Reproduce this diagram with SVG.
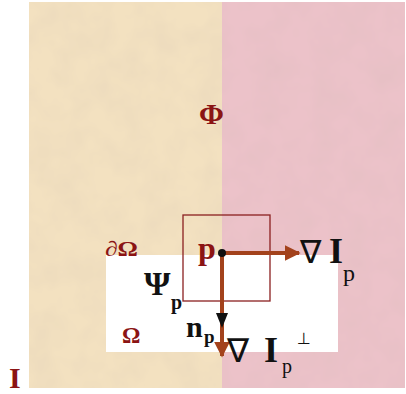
<svg xmlns="http://www.w3.org/2000/svg" width="406" height="394" viewBox="0 0 406 394">
<defs>
<style>
.t{font-family:"Liberation Serif","DejaVu Serif",serif;font-weight:bold}
.n{font-family:"Liberation Serif","DejaVu Serif",serif;font-weight:normal}
.nab{font-family:"DejaVu Sans",sans-serif;font-weight:normal}
.red{fill:#8b1414}
.blk{fill:#111}
.arr{stroke:#a3421c;stroke-width:4;fill:none}
</style>
<filter id="tex" x="0" y="0" width="100%" height="100%">
<feTurbulence type="fractalNoise" baseFrequency="0.035" numOctaves="3" seed="4"/>
<feColorMatrix type="matrix" values="0 0 0 0 0.55  0 0 0 0 0.45  0 0 0 0 0.4  0 0 0 0.22 -0.07"/>
</filter>
<marker id="ah" viewBox="0 0 10 10" refX="9" refY="5" markerWidth="4" markerHeight="4" orient="auto" markerUnits="strokeWidth">
<path d="M0,0L10,5L0,10z" fill="#a3421c"/>
</marker>
</defs>
<rect x="0" y="0" width="406" height="394" fill="#ffffff"/>
<rect x="29" y="2" width="193" height="386" fill="#f3e1c0"/>
<rect x="222" y="2" width="183" height="386" fill="#ecc2c9"/>
<rect x="29" y="2" width="376" height="386" filter="url(#tex)"/>
<rect x="106" y="255" width="232" height="97" fill="#ffffff"/>
<g id="square"><rect x="183" y="215" width="87" height="86" fill="none" stroke="#8b2020" stroke-width="1.3"/></g>
<g id="connectors">
<line class="arr" x1="222" y1="253" x2="299" y2="253" marker-end="url(#ah)"/>
<line class="arr" x1="222" y1="253" x2="222" y2="356" marker-end="url(#ah)"/>
<path d="M216,313L228,313L222,328z" fill="#111"/>
</g>
<g id="p"><circle cx="222" cy="253" r="4" fill="#111"/>
<text class="t red" x="198" y="259" font-size="32">p</text></g>
<g id="phi"><text class="t red" x="199" y="124" font-size="30">Φ</text></g>
<g id="dOmega"><text class="t red" x="105" y="256" font-size="21" textLength="33" lengthAdjust="spacingAndGlyphs"><tspan font-style="italic">∂</tspan>Ω</text></g>
<g id="gradI"><text class="nab blk" x="300" y="263" font-size="32">∇</text><text class="t blk" x="329" y="263" font-size="36">I</text><text class="n blk" x="343" y="281" font-size="24">p</text></g>
<g id="psi"><text class="t blk" x="144" y="295" font-size="34">Ψ</text><text class="t blk" x="171" y="309" font-size="20">p</text></g>
<g id="Omega"><text class="t red" x="122" y="343" font-size="23">Ω</text></g>
<g id="np"><text class="t blk" x="186" y="337" font-size="30">n</text><text class="t blk" x="204" y="343" font-size="19">p</text></g>
<g id="gradIperp"><text class="nab blk" x="227" y="362" font-size="33">∇</text><text class="t blk" x="264" y="362" font-size="36">I</text><text class="n blk" x="282" y="373" font-size="20">p</text><text class="nab blk" x="297" y="344" font-size="16">⊥</text></g>
<g id="I"><text class="t red" x="9" y="388" font-size="30">I</text></g>
</svg>
